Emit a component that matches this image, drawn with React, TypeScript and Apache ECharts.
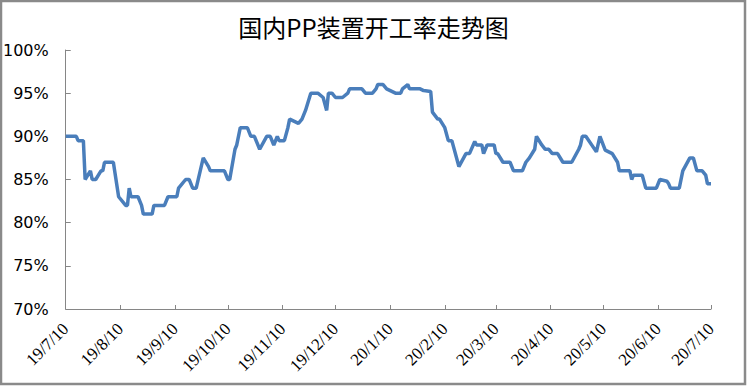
import React, { useEffect, useRef } from "react";
import * as echarts from "echarts";

const TITLE = "国内PP装置开工率走势图";
const START = { y: 2019, m: 7, d: 10 };
const DAY_COUNT = 367; // 19/7/10 .. 20/7/10 inclusive

const yTicks = { min: 70, max: 100, step: 5 };

// readings: date (yy/m/d) and operating rate (%)
const rateDates = [
  "19/7/10", "19/7/16", "19/7/17", "19/7/20", "19/7/21", "19/7/24", "19/7/25", "19/7/27", "19/7/30", "19/7/31",
  "19/8/1", "19/8/6", "19/8/9", "19/8/13", "19/8/14", "19/8/15", "19/8/16", "19/8/20", "19/8/22", "19/8/23",
  "19/8/28", "19/8/29", "19/9/4", "19/9/6", "19/9/11", "19/9/12", "19/9/16", "19/9/18", "19/9/20", "19/9/22",
  "19/9/26", "19/9/29", "19/9/30", "19/10/8", "19/10/10", "19/10/11", "19/10/14", "19/10/15", "19/10/17", "19/10/21",
  "19/10/23", "19/10/25", "19/10/28", "19/11/1", "19/11/3", "19/11/5", "19/11/7", "19/11/8", "19/11/11", "19/11/13",
  "19/11/14", "19/11/19", "19/11/21", "19/11/23", "19/11/26", "19/11/30", "19/12/3", "19/12/5", "19/12/6", "19/12/8",
  "19/12/10", "19/12/14", "19/12/17", "19/12/18", "19/12/25", "19/12/27", "19/12/31", "20/1/2", "20/1/3", "20/1/6",
  "20/1/8", "20/1/13", "20/1/16", "20/1/17", "20/1/20", "20/1/21", "20/1/27", "20/1/29", "20/2/2", "20/2/3",
  "20/2/6", "20/2/7", "20/2/10", "20/2/12", "20/2/14", "20/2/18", "20/2/22", "20/2/24", "20/2/27", "20/2/28",
  "20/3/2", "20/3/3", "20/3/5", "20/3/9", "20/3/10", "20/3/11", "20/3/14", "20/3/18", "20/3/20", "20/3/25",
  "20/3/27", "20/3/29", "20/4/1", "20/4/2", "20/4/5", "20/4/7", "20/4/9", "20/4/11", "20/4/14", "20/4/17",
  "20/4/22", "20/4/26", "20/4/27", "20/4/28", "20/4/30", "20/5/6", "20/5/8", "20/5/11", "20/5/15", "20/5/18",
  "20/5/19", "20/5/25", "20/5/26", "20/5/27", "20/6/1", "20/6/3", "20/6/9", "20/6/11", "20/6/15", "20/6/16",
  "20/6/17", "20/6/22", "20/6/24", "20/6/28", "20/6/30", "20/7/2", "20/7/5", "20/7/7", "20/7/8", "20/7/10",
];
const rateValues = [
  90, 90, 89.5, 89.5, 85, 86, 85, 85, 86, 86,
  87, 87, 83, 82, 82, 84, 83, 83, 82, 81,
  81, 82, 82, 83, 83, 84, 85, 85, 84, 84,
  87.5, 86.5, 86, 86, 85, 85, 88.5, 89, 91, 91,
  90, 90, 88.5, 90, 90, 89, 90, 89.5, 89.5, 91,
  92, 91.5, 92, 93, 95, 95, 94.5, 93, 95, 95,
  94.5, 94.5, 95, 95.5, 95.5, 95, 95, 95.5, 96, 96,
  95.5, 95, 95, 95.5, 96, 95.5, 95.5, 95.3, 95.2, 92.8,
  92, 92, 91, 89.5, 89.5, 86.5, 88, 88, 89.4, 89,
  89, 88, 89, 89, 88, 88, 87, 87, 86, 86,
  87, 87.5, 88.5, 90, 89, 88.5, 88.5, 88, 88, 87,
  87, 88.5, 89, 90, 90, 88.2, 90, 88.4, 88, 87,
  86, 86, 85, 85.5, 85.5, 84, 84, 85, 84.8, 84.5,
  84, 84, 86, 87.5, 87.5, 86, 86, 85.5, 84.5, 84.5,
];

function buildCategories(): string[] {
  const out: string[] = [];
  const base = new Date(START.y, START.m - 1, START.d);
  for (let i = 0; i < DAY_COUNT; i++) {
    const dt = new Date(base.getFullYear(), base.getMonth(), base.getDate() + i);
    out.push(`${String(dt.getFullYear()).slice(2)}/${dt.getMonth() + 1}/${dt.getDate()}`);
  }
  return out;
}

export default function App() {
  const ref = useRef<HTMLDivElement>(null);
  useEffect(() => {
    if (!ref.current) return;
    const chart = echarts.init(ref.current, null, { renderer: "svg" });
    const categories = buildCategories();
    const isTen = (_i: number, v: string) => v.split("/")[2] === "10";
    chart.setOption({
      animation: false,
      backgroundColor: "#ffffff",
      title: {
        text: TITLE,
        left: "center",
        top: 9,
        textStyle: {
          fontFamily: "'Noto Sans CJK SC', sans-serif",
          fontSize: 24,
          fontWeight: "normal",
          color: "#000000",
        },
      },
      graphic: [
        {
          type: "rect",
          shape: { x: 1, y: 1, width: 744, height: 383 },
          style: { fill: "none", stroke: "#8a8a8a", lineWidth: 2.5 },
          silent: true,
        },
      ],
      grid: { left: 65, right: 36, top: 50, bottom: 77, containLabel: false },
      xAxis: {
        type: "category",
        data: categories,
        boundaryGap: false,
        axisLine: { lineStyle: { color: "#868686", width: 1 } },
        axisTick: { inside: true, length: 4, interval: isTen, lineStyle: { color: "#868686" } },
        axisLabel: {
          interval: isTen,
          rotate: 45,
          margin: 17,
          fontFamily: "'Liberation Serif', serif",
          fontSize: 17,
          color: "#000000",
        },
        splitLine: { show: false },
      },
      yAxis: {
        type: "value",
        min: yTicks.min,
        max: yTicks.max,
        interval: yTicks.step,
        axisLine: { show: true, lineStyle: { color: "#868686", width: 1 } },
        axisTick: { show: true, inside: true, length: 5, lineStyle: { color: "#868686" } },
        axisLabel: {
          formatter: (v: number) => `${v}%`,
          fontFamily: "'DejaVu Sans', sans-serif",
          fontSize: 16,
          color: "#000000",
          margin: 17,
        },
        splitLine: { show: false },
      },
      series: [
        {
          type: "line",
          data: rateDates.map((d, i) => [d, rateValues[i]]),
          symbol: "none",
          lineStyle: { color: "#4A7EBB", width: 3.5 },
          itemStyle: { color: "#4A7EBB" },
        },
      ],
    });
    return () => chart.dispose();
  }, []);
  return (
    <div
      ref={ref}
      style={{ position: "absolute", left: 0, top: 0, width: 747, height: 386 }}
    />
  );
}
